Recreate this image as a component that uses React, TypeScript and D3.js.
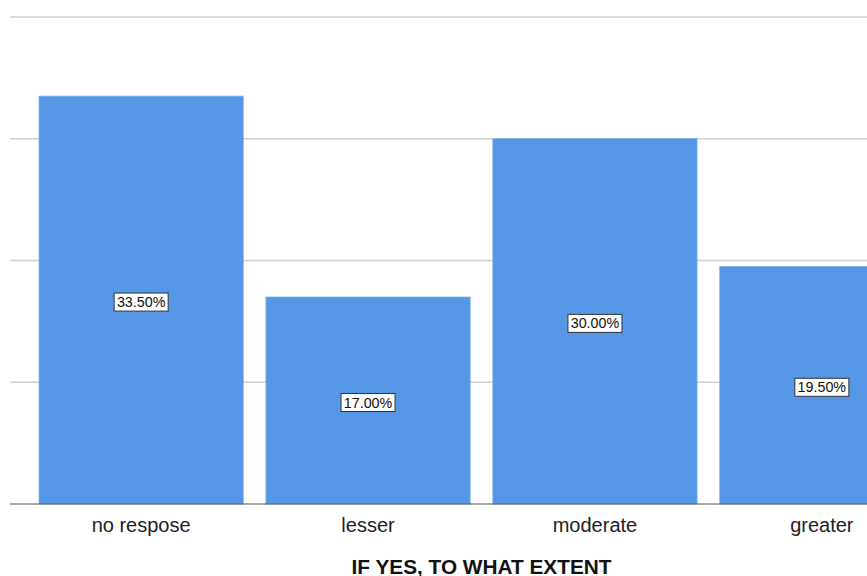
import React from "react";
import * as d3 from "d3";

const categories = ["no respose", "lesser", "moderate", "greater"];
const percents = [33.5, 17.0, 30.0, 19.5];
const gridValues = [10, 20, 30, 40];
const axisTitle = "IF YES, TO WHAT EXTENT";

const W = 867;
const H = 576;

export default function App() {
  const x = d3
    .scaleBand<string>()
    .domain(categories)
    .range([10, 953])
    .paddingInner(0.1)
    .paddingOuter(0.128);
  const y = d3.scaleLinear().domain([0, 40]).range([504, 17]);
  const fmt = (v: number) => d3.format(".2f")(v) + "%";

  return (
    <svg
      width={W}
      height={H}
      style={{ position: "absolute", left: 0, top: 0, background: "#fff" }}
      fontFamily="'Liberation Sans', Arial, sans-serif"
    >
      <defs>
        <clipPath id="plot">
          <rect x={0} y={0} width={W} height={H} />
        </clipPath>
      </defs>
      <g clipPath="url(#plot)">
        {gridValues.map((g) => (
          <line
            key={g}
            x1={10}
            x2={W}
            y1={y(g)}
            y2={y(g)}
            stroke="#cfcfcf"
            strokeWidth={1.5}
          />
        ))}
        {categories.map((c, i) => (
          <rect
            key={c}
            x={x(c)}
            y={y(percents[i])}
            width={x.bandwidth()}
            height={y(0) - y(percents[i])}
            fill="#5596e6"
            stroke="#7aaeee"
            strokeWidth={0.8}
          />
        ))}
        <line x1={10} x2={W} y1={y(0)} y2={y(0)} stroke="#555" strokeWidth={1.2} />
        {categories.map((c, i) => {
          const cx = (x(c) ?? 0) + x.bandwidth() / 2;
          const cy = y(percents[i] / 2) + 2;
          const bw = 54;
          const bh = 18;
          return (
            <g key={c + "-lbl"}>
              <rect
                x={cx - bw / 2}
                y={cy - bh / 2}
                width={bw}
                height={bh}
                fill="#fff"
                stroke="#333"
                strokeWidth={1}
              />
              <text
                x={cx}
                y={cy}
                textAnchor="middle"
                dominantBaseline="central"
                fontSize={14.3}
                fill="#111"
              >
                {fmt(percents[i])}
              </text>
            </g>
          );
        })}
        {categories.map((c) => (
          <text
            key={c + "-tick"}
            x={(x(c) ?? 0) + x.bandwidth() / 2}
            y={525}
            textAnchor="middle"
            dominantBaseline="central"
            fontSize={20}
            fill="#222"
          >
            {c}
          </text>
        ))}
      </g>
      <text
        x={481.5}
        y={566}
        textAnchor="middle"
        dominantBaseline="central"
        fontSize={20.8}
        fontWeight="bold"
        fill="#111"
      >
        {axisTitle}
      </text>
    </svg>
  );
}
